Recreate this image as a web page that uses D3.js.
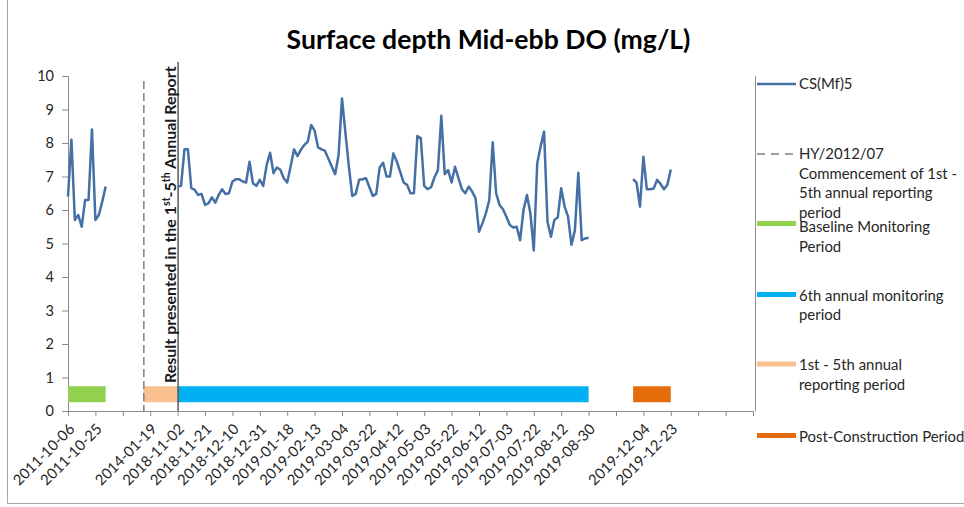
<!DOCTYPE html>
<html><head><meta charset="utf-8">
<script src="https://cdn.jsdelivr.net/npm/d3@7"></script>
<style>
html,body{margin:0;padding:0;background:#fff;}
svg{display:block;font-family:Lato, "Open Sans", sans-serif;}
</style></head>
<body><svg id="chart" width="964" height="507"></svg>
<script>
// ---- data ----
const tickLabels = ["2011-10-06","2011-10-25","","2014-01-19","2018-11-02","2018-11-21","2018-12-10","2018-12-31",
  "2019-01-18","2019-02-13","2019-03-04","2019-03-22","2019-04-12","2019-05-03","2019-05-22","2019-06-12",
  "2019-07-03","2019-07-22","2019-08-12","2019-08-30","","2019-12-04","2019-12-23","","",""];
const categoryCount = 201; // category slots on the axis (index 0..200)
const tickEvery = 8;

// CS(Mf)5 DO values, by segment (start category index + values)
const baselineStart = 0;
const baselineDO = [6.40,8.10,5.70,5.85,5.50,6.30,6.30,8.40,5.70,5.85,6.25,6.70];
const sixthStart = 32;
const sixthDO = [6.70,6.72,7.81,7.81,6.65,6.60,6.45,6.48,6.15,6.20,6.38,6.22,6.45,6.62,6.48,6.50,
  6.85,6.92,6.92,6.85,6.82,7.44,6.80,6.72,6.90,6.72,7.34,7.71,7.10,7.27,7.20,6.95,
  6.82,7.30,7.81,7.61,7.80,7.94,8.04,8.54,8.37,7.87,7.81,7.77,7.54,7.30,7.07,7.64,
  9.33,8.30,7.30,6.42,6.48,6.90,6.92,6.95,6.68,6.42,6.48,7.27,7.41,7.00,7.00,7.69,
  7.45,7.14,6.82,6.75,6.50,6.50,8.21,8.15,6.72,6.62,6.68,6.97,7.19,8.81,7.07,7.19,
  6.82,7.29,6.95,6.62,6.50,6.70,6.55,6.35,5.35,5.60,5.90,6.30,8.02,6.50,6.15,6.02,
  5.80,5.55,5.48,5.50,5.10,6.00,6.45,5.90,4.79,7.39,7.90,8.34,5.65,5.20,5.70,5.78,
  6.65,6.10,5.80,4.96,5.40,7.11,5.10,5.15,5.17];
const postStart = 165;
const postDO = [6.92,6.82,6.10,7.59,6.62,6.62,6.64,6.90,6.78,6.62,6.75,7.21];

// period bars: [startIndex, endIndex]
const periodNames = ["Baseline Monitoring Period","6th annual monitoring period","1st - 5th annual reporting period","Post-Construction Period"];
const periodRanges = [[0,11],[32,152],[22,32],[165,176]];
const periodLevel = 0.5;
const hyLineIndex = 22;   // HY/2012/07 dashed marker
const reportLineIndex = 32;

const yTicks = [0,1,2,3,4,5,6,7,8,9,10];

// ---- styling ----
const C = {line:"#4470a6", green:"#92d050", blue:"#00b0f0", peach:"#fac090", orange:"#e46c0a", axis:"#8c8c8c", text:"#262626"};
const svg = d3.select("#chart");
const x = d3.scaleLinear().domain([0, categoryCount-1]).range([68, 753]);
const y = d3.scaleLinear().domain([0, 10]).range([411, 76]);

// chart border
svg.append("path").attr("d","M7.5,0 V503.5 H964").attr("fill","none").attr("stroke","#a6a6a6").attr("stroke-width",1);

// title
svg.append("text").attr("x",488.5).attr("y",49).attr("text-anchor","middle")
  .attr("font-weight","bold").attr("font-size",26.6).attr("fill","#000").text("Surface depth Mid-ebb DO (mg/L)");

// y axis
const yAxis = svg.append("g").attr("transform","translate(68,0)")
  .call(d3.axisLeft(y).tickValues(yTicks).tickSize(6).tickPadding(8).tickFormat(d3.format("d")));
yAxis.select(".domain").attr("stroke",C.axis);
yAxis.selectAll(".tick line").attr("stroke",C.axis);
yAxis.selectAll("text").attr("font-size",14.5).attr("fill",C.text).attr("font-family","Lato");

// secondary (right) axis line
svg.append("line").attr("x1",755.5).attr("x2",755.5).attr("y1",76).attr("y2",411).attr("stroke",C.axis);

// x axis
const tickIdx = d3.range(0, categoryCount, tickEvery);
const xAxis = svg.append("g").attr("transform","translate(0,411)")
  .call(d3.axisBottom(x).tickValues(tickIdx).tickSize(5).tickSizeOuter(0).tickFormat(""));
xAxis.select(".domain").attr("stroke",C.axis);
xAxis.selectAll(".tick line").attr("stroke",C.axis);
svg.append("g").selectAll("text").data(tickIdx).join("text")
  .attr("transform", d => `translate(${x(d)+7.5},${430}) rotate(-45)`)
  .attr("text-anchor","end").attr("font-size",14.8).attr("fill",C.text)
  .text((d,i) => tickLabels[i]);

// period bars
const bars = [
  {r:periodRanges[0], c:C.green},
  {r:periodRanges[2], c:C.peach},
  {r:periodRanges[1], c:C.blue},
  {r:periodRanges[3], c:C.orange}
];
svg.append("g").selectAll("line").data(bars).join("line")
  .attr("x1",d=>x(d.r[0])).attr("x2",d=>x(d.r[1]))
  .attr("y1",y(periodLevel)).attr("y2",y(periodLevel))
  .attr("stroke",d=>d.c).attr("stroke-width",16);

// HY dashed marker line
svg.append("line").attr("x1",x(hyLineIndex)+0.5).attr("x2",x(hyLineIndex)+0.5).attr("y1",81).attr("y2",411)
  .attr("stroke","#7f7f7f").attr("stroke-width",1.5).attr("stroke-dasharray","8,4");

// report marker line (underline of rotated annotation)
svg.append("line").attr("x1",x(reportLineIndex)+0.5).attr("x2",x(reportLineIndex)+0.5).attr("y1",62).attr("y2",411)
  .attr("stroke","#595959").attr("stroke-width",1.5);

// rotated annotation
const ann = svg.append("text").attr("transform",`translate(${x(reportLineIndex)-2},383) rotate(-90)`)
  .attr("font-size",16).attr("font-weight","bold").attr("fill","#1a1a1a");
ann.append("tspan").text("Result presented in the 1");
ann.append("tspan").attr("baseline-shift","super").attr("font-size",10.5).text("st");
ann.append("tspan").text("-5");
ann.append("tspan").attr("baseline-shift","super").attr("font-size",10.5).text("th");
ann.append("tspan").text("  Annual Report");

// DO line segments
const line = d3.line().defined(d=>d.v!=null).x(d=>x(d.i)).y(d=>y(d.v));
const segs = [[baselineStart,baselineDO],[sixthStart,sixthDO],[postStart,postDO]].map(([s,arr]) => arr.map((v,k)=>({i:s+k,v})));
svg.append("g").selectAll("path").data(segs).join("path")
  .attr("d",line).attr("fill","none").attr("stroke",C.line).attr("stroke-width",2.5).attr("stroke-linejoin","round");

// legend
const lg = svg.append("g").attr("font-size",14.9).attr("fill",C.text);
function ltext(lines, y0){ lines.forEach((t,k)=> lg.append("text").attr("x",799).attr("y",y0+5+k*19.5).text(t)); }
lg.append("line").attr("x1",757).attr("x2",796).attr("y1",84).attr("y2",84).attr("stroke",C.line).attr("stroke-width",2.5);
ltext(["CS(Mf)5"],84);
lg.append("line").attr("x1",757).attr("x2",796).attr("y1",154).attr("y2",154).attr("stroke","#7f7f7f").attr("stroke-width",1.5).attr("stroke-dasharray","8,6");
ltext(["HY/2012/07","Commencement of 1st -","5th annual reporting","period"],154);
const sw = [[223.5,C.green,["Baseline Monitoring","Period"]],[294.5,C.blue,["6th annual monitoring","period"]],
  [364,C.peach,["1st - 5th annual","reporting period"]],[435.5,C.orange,["Post-Construction Period"]]];
sw.forEach(([yy,c,t])=>{
  lg.append("line").attr("x1",757).attr("x2",796).attr("y1",yy).attr("y2",yy).attr("stroke",c).attr("stroke-width",5);
  ltext(t, t[0]==="Baseline Monitoring"? 227 : yy+1);
});
</script></body></html>
